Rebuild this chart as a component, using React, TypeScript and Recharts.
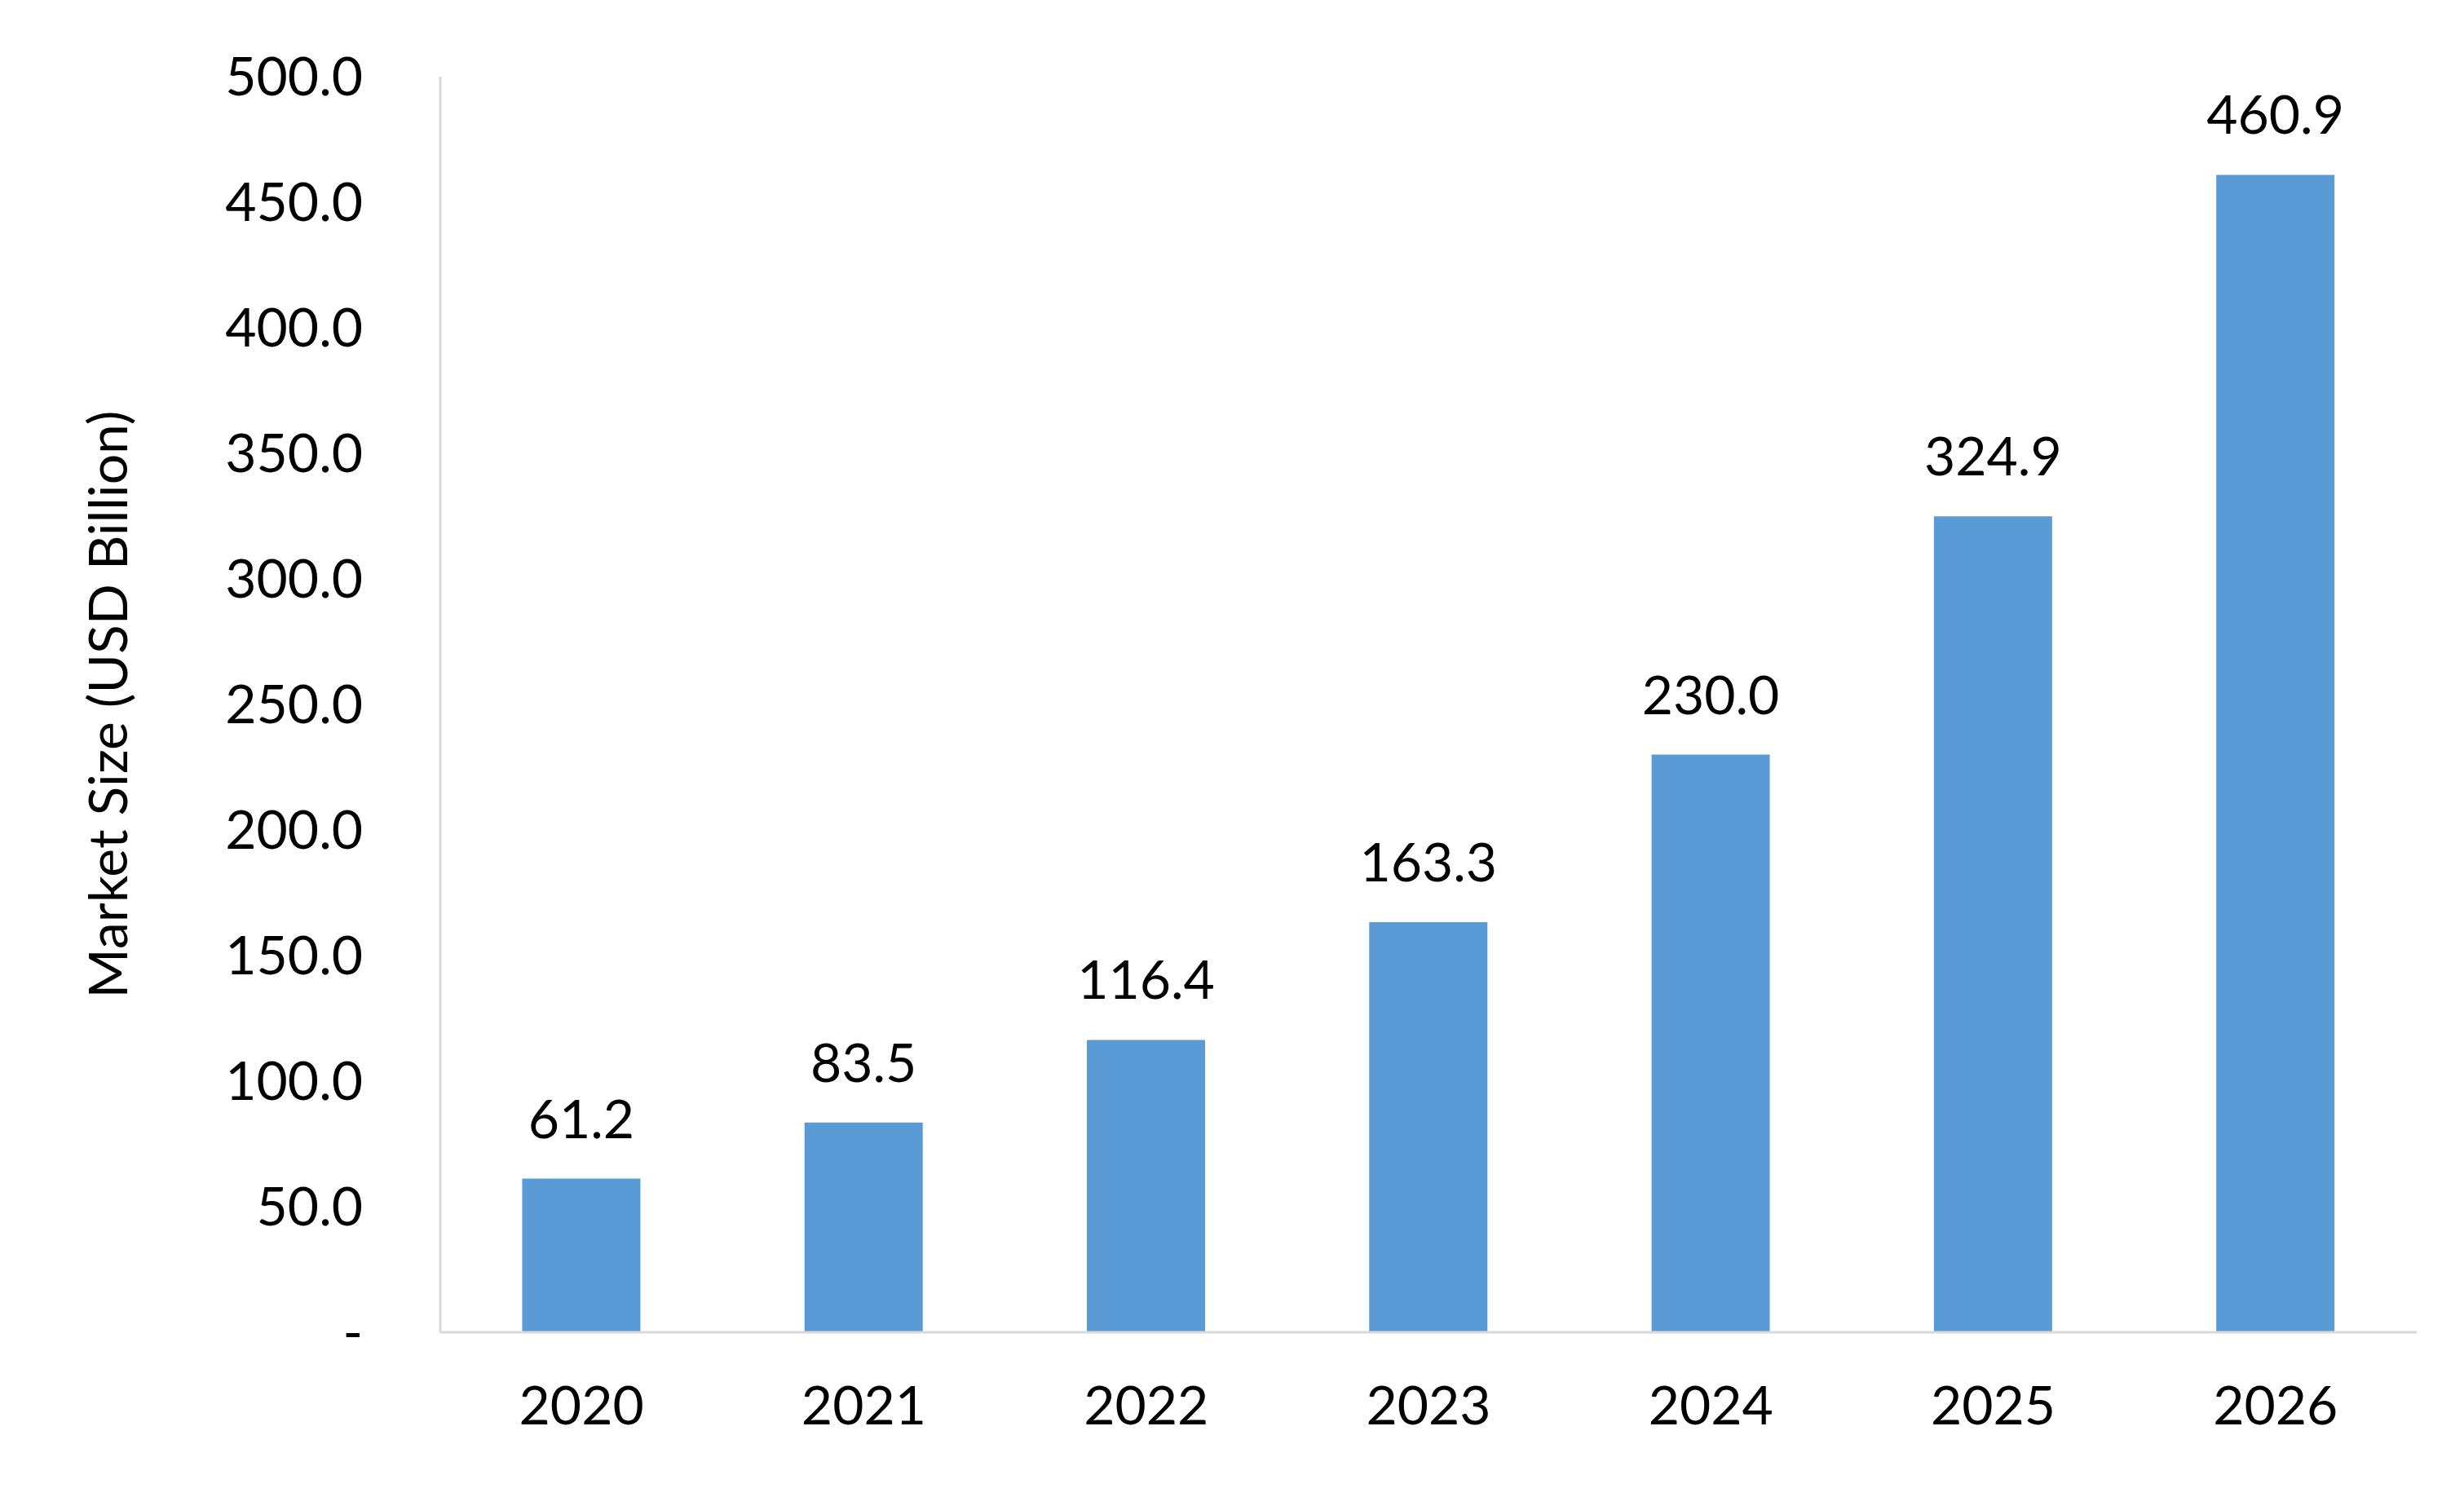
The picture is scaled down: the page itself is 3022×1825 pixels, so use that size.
import React from "react";
import { BarChart, Bar, XAxis, YAxis, LabelList, Label } from "recharts";

const years = ["2020", "2021", "2022", "2023", "2024", "2025", "2026"];
const values = [61.2, 83.5, 116.4, 163.3, 230.0, 324.9, 460.9];
const yTicks = [0, 50, 100, 150, 200, 250, 300, 350, 400, 450, 500];

const data = years.map((y, i) => ({ year: y, value: values[i] }));
const font = "Lato, 'Open Sans', sans-serif";

export default function App() {
  return (
    <div style={{ width: 3006, height: 1810, fontFamily: font }}>
      <BarChart width={3006} height={1810} data={data} barCategoryGap="29%"
        margin={{ top: 86, right: 50, bottom: 0, left: 0 }}>
        <XAxis dataKey="year" axisLine={{ stroke: "#D9D9D9", strokeWidth: 3 }} tickLine={false}
          tick={{ fill: "#000", fontSize: 66, fontFamily: font }} tickMargin={60} height={184} />
        <YAxis domain={[0, 500]} ticks={yTicks} width={532} interval={0}
          axisLine={{ stroke: "#D9D9D9", strokeWidth: 3 }} tickLine={false} tickSize={0} tickMargin={95}
          tick={{ fill: "#000", fontSize: 66, fontFamily: font }}
          tickFormatter={(v: number) => (v === 0 ? "-" : v.toFixed(1))}>
          <Label value="Market Size (USD Billion)" angle={-90} position="insideLeft" offset={125}
            style={{ textAnchor: "middle", fill: "#000", fontSize: 66, fontFamily: font }} />
        </YAxis>
        <Bar dataKey="value" fill="#5B9BD5" isAnimationActive={false}>
          <LabelList dataKey="value" position="top" offset={50}
            formatter={(v: number) => v.toFixed(1)}
            style={{ fill: "#000", fontSize: 66, fontFamily: font }} />
        </Bar>
      </BarChart>
    </div>
  );
}
